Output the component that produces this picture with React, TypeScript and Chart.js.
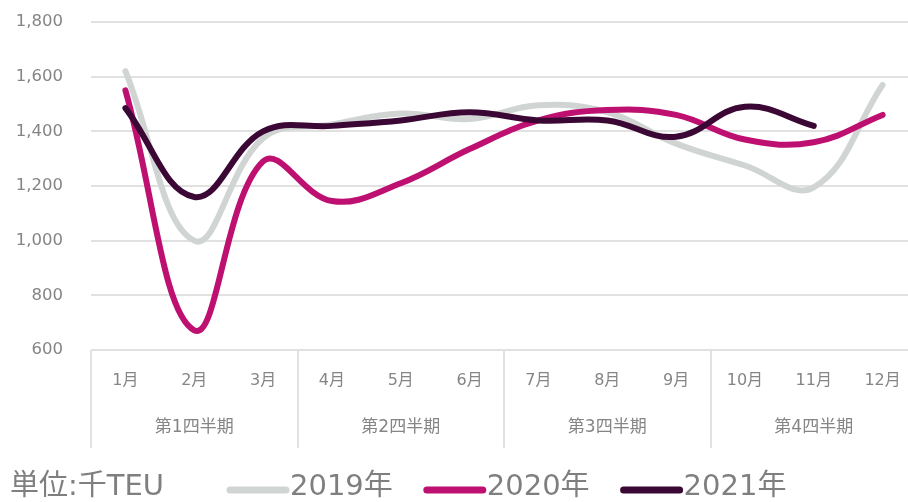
import React, { useEffect, useRef } from "react";
import { Chart, registerables } from "chart.js";

Chart.register(...registerables);

// ---- data ----
const months = ["1月", "2月", "3月", "4月", "5月", "6月", "7月", "8月", "9月", "10月", "11月", "12月"];
const quarters = ["第1四半期", "第2四半期", "第3四半期", "第4四半期"];
const monthsPerQuarter = 3;
const seriesNames = ["2019年", "2020年", "2021年"];
const values2019 = [1620, 1000, 1375, 1425, 1465, 1445, 1495, 1470, 1355, 1275, 1195, 1570];
const values2020 = [1550, 672, 1290, 1145, 1210, 1335, 1440, 1478, 1460, 1370, 1360, 1460];
const values2021 = [1485, 1160, 1400, 1420, 1440, 1470, 1440, 1440, 1380, 1490, 1420];
const yMin = 600;
const yMax = 1800;
const yStep = 200;
const unitLabel = "単位:千TEU";

const seriesColors = ["#d0d5d3", "#be1070", "#3b0734"];
const textColor = "#858585";
const gridColor = "#e1e1e1";
const FONT = "'DejaVu Sans', 'Noto Sans CJK JP', sans-serif";

const quarterPlugin = {
  id: "quarterAxis",
  afterDraw(chart: any) {
    const ctx = chart.ctx;
    const x = chart.scales.x;
    const area = chart.chartArea;
    const cw = x.getPixelForValue(1) - x.getPixelForValue(0);
    ctx.save();
    ctx.strokeStyle = gridColor;
    ctx.lineWidth = 2;
    for (let q = 0; q <= quarters.length; q++) {
      const idx = q * monthsPerQuarter;
      const px = Math.round(x.getPixelForValue(0) + (idx - 0.5) * cw);
      ctx.beginPath();
      ctx.moveTo(px, area.bottom);
      ctx.lineTo(px, 448);
      ctx.stroke();
    }
    ctx.fillStyle = textColor;
    ctx.font = `17px ${FONT}`;
    ctx.textAlign = "center";
    ctx.textBaseline = "middle";
    quarters.forEach((label, q) => {
      const c = x.getPixelForValue(q * monthsPerQuarter) + cw;
      ctx.fillText(label, c, 428);
    });

    // legend
    ctx.textAlign = "left";
    ctx.font = `29px ${FONT}`;
    ctx.fillStyle = "#7f7f7f";
    ctx.fillText(unitLabel, 10, 487);
    let px = 230;
    chart.data.datasets.forEach((ds: any) => {
      ctx.strokeStyle = ds.borderColor;
      ctx.lineWidth = 7;
      ctx.lineCap = "round";
      ctx.beginPath();
      ctx.moveTo(px, 490);
      ctx.lineTo(px + 56, 490);
      ctx.stroke();
      ctx.fillStyle = "#7f7f7f";
      ctx.fillText(ds.label, px + 60, 487);
      px += 60 + ctx.measureText(ds.label).width + 34;
    });
    ctx.restore();
  },
};

export default function App() {
  const ref = useRef<HTMLCanvasElement>(null);
  useEffect(() => {
    if (!ref.current) return;
    const all = [values2019, values2020, values2021];
    const chart = new Chart(ref.current, {
      type: "line",
      data: {
        labels: months,
        datasets: all.map((vals, i) => ({
          label: seriesNames[i],
          data: vals,
          borderColor: seriesColors[i],
          backgroundColor: seriesColors[i],
          borderWidth: 6,
          pointRadius: 0,
          tension: 0.4,
          borderCapStyle: "round",
          borderJoinStyle: "round",
          fill: false,
          order: 3 - i,
        })),
      },
      options: {
        animation: false,
        responsive: false,
        devicePixelRatio: 1,
        layout: { padding: { top: 22, right: 13, left: 0, bottom: 0 } },
        plugins: { legend: { display: false }, tooltip: { enabled: false } },
        scales: {
          x: {
            type: "category",
            offset: true,
            grid: { display: false, drawTicks: false },
            border: { display: false },
            ticks: { color: textColor, font: { size: 16, family: FONT }, padding: 21, maxRotation: 0, autoSkip: false },
            afterFit(scale: any) {
              scale.height = 152;
            },
          },
          y: {
            min: yMin,
            max: yMax,
            grid: { color: gridColor, lineWidth: 2, drawTicks: true, tickLength: 28, tickColor: "rgba(0,0,0,0)" },
            border: { display: false },
            ticks: {
              stepSize: yStep,
              color: textColor,
              font: { size: 16.5, family: FONT },
              padding: 0,
              callback: (v: any) => Number(v).toLocaleString("en-US"),
            },
            afterFit(scale: any) {
              scale.width = 91;
            },
          },
        },
      },
      plugins: [quarterPlugin],
    });
    return () => chart.destroy();
  }, []);
  return (
    <div style={{ position: "fixed", left: 0, top: 0, width: 908, height: 502, overflow: "hidden", background: "#fff" }}>
      <canvas ref={ref} width={930} height={502} style={{ width: 930, height: 502, display: "block" }} />
    </div>
  );
}
